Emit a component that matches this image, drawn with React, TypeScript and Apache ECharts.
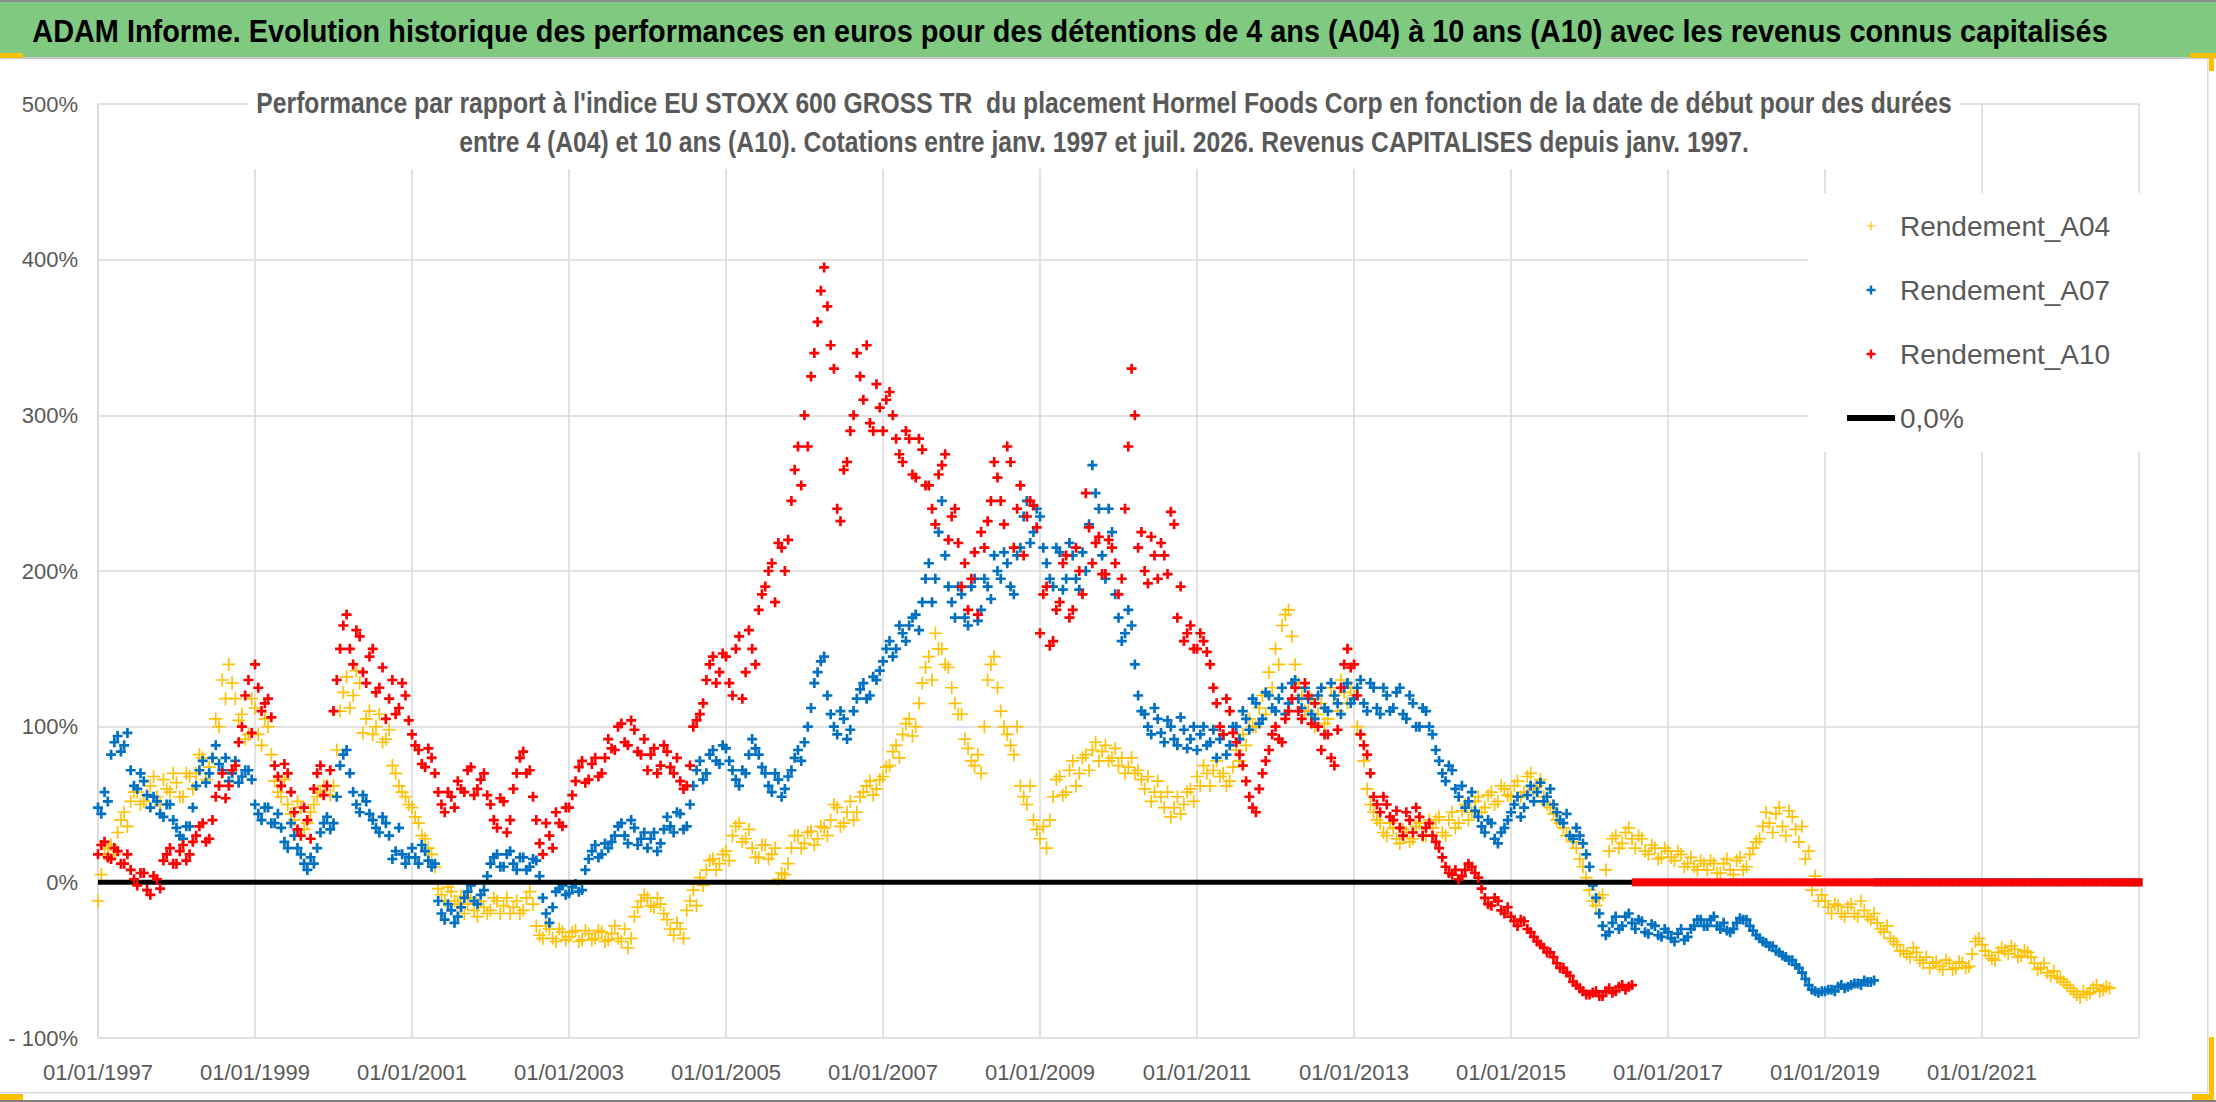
import { useEffect, useRef } from 'react'
import * as echarts from 'echarts'

const FONT = "'Liberation Sans', Arial, sans-serif"

const MAIN_TITLE =
  'ADAM Informe. Evolution historique des performances en euros pour des détentions de 4 ans (A04) à 10 ans (A10) avec les revenus connus capitalisés'
const SUBTITLE_1 =
  "Performance par rapport à l'indice EU STOXX 600 GROSS TR  du placement Hormel Foods Corp en fonction de la date de début pour des durées"
const SUBTITLE_2 =
  'entre 4 (A04) et 10 ans (A10). Cotations entre janv. 1997 et juil. 2026. Revenus CAPITALISES depuis janv. 1997.'

// axe des dates : relevés en début et en milieu de chaque mois depuis janv. 1997
const START_YEAR = 1997
const X_MIN = 1997
const X_MAX = 2023
const X_STEP = 2
const Y_MIN = -100
const Y_MAX = 500
const Y_STEP = 100

// rendement (%) selon la date de début — relevé du début de mois
const rendementA04 = [
  -12, 18, 24, 32, 45, 52, 58, 52, 62, 55, 66, 58, // 1997
  64, 55, 68, 70, 80, 74, 105, 130, 140, 118, 108, 95, // 1998
  112, 88, 100, 65, 55, 50, 40, 48, 38, 50, 58, 62, // 1999
  62, 110, 132, 120, 128, 105, 95, 108, 92, 75, 62, 55, // 2000
  48, 38, 28, 18, -4, -12, -6, -14, -20, -10, -22, -16, // 2001
  -18, -12, -15, -20, -12, -18, -6, -28, -36, -30, -38, -32, // 2002
  -35, -31, -37, -33, -36, -32, -37, -28, -38, -42, -22, -12, // 2003
  -10, -16, -14, -24, -34, -30, -18, -5, 3, 8, 15, 12, // 2004
  20, 30, 38, 28, 22, 16, 24, 18, 2, 5, 22, 30, // 2005
  25, 33, 28, 35, 40, 48, 38, 52, 45, 58, 65, 60, // 2006
  68, 75, 88, 95, 105, 100, 128, 145, 160, 150, 138, 115, // 2007
  108, 86, 75, 70, 130, 145, 110, 95, 82, 62, 50, 40, // 2008
  28, 22, 55, 68, 58, 78, 70, 82, 85, 78, 88, 80, // 2009
  75, 70, 80, 72, 60, 52, 65, 48, 42, 55, 50, 60, // 2010
  68, 75, 62, 78, 70, 65, 85, 95, 105, 100, 120, 135, // 2011
  150, 165, 175, 140, 120, 110, 100, 115, 105, 120, 130, 115, // 2012
  120, 95, 60, 45, 38, 30, 35, 25, 32, 28, 38, 30, // 2013
  35, 42, 30, 45, 38, 50, 45, 55, 48, 58, 52, 60, // 2014
  55, 65, 58, 70, 62, 55, 48, 40, 35, 30, 22, 10, // 2015
  -5, -15, -8, 20, 30, 25, 35, 22, 28, 18, 22, 16, // 2016
  20, 14, 18, 12, 10, 14, 8, 12, 6, 15, 5, 16, // 2017
  10, 22, 28, 45, 32, 48, 30, 42, 26, 15, -5, -12, // 2018
  -12, -20, -15, -22, -14, -22, -18, -24, -26, -32, -36, -40, // 2019
  -44, -48, -45, -52, -55, -51, -56, -52, -55, -52, -54, -38, // 2020
  -40, -47, -50, -42, -46, -43, -47, -45, -52, -55, -58, -57, // 2021
  -62, -66, -70, -74, -72, -68, -70, -67, 0, 0, 0, 0, // 2022
  0, // 2023
]
// relevé du milieu de mois
const rendementA04Mi = [
  5, 22, 18, 40, 36, 58, 50, 56, 68, 50, 60, 70, // 1997
  55, 70, 60, 82, 66, 80, 100, 118, 128, 104, 92, 118, // 1998
  95, 105, 82, 58, 66, 44, 52, 34, 45, 55, 62, 56, // 1999
  85, 122, 112, 136, 96, 110, 100, 90, 98, 70, 58, 50, // 2000
  42, 30, 22, 10, -8, -3, -12, -9, -14, -18, -12, -20, // 2001
  -10, -20, -10, -16, -20, -10, -14, -34, -28, -36, -30, -37, // 2002
  -32, -38, -31, -37, -31, -38, -33, -36, -30, -36, -16, -8, // 2003
  -15, -10, -20, -30, -26, -36, -12, -15, -2, 14, 8, 18, // 2004
  14, 36, 26, 34, 16, 24, 15, 22, 6, 12, 30, 22, // 2005
  32, 24, 36, 30, 50, 36, 45, 40, 55, 62, 56, 66, // 2006
  74, 84, 80, 102, 94, 115, 138, 130, 150, 140, 125, 108, // 2007
  92, 78, 82, 100, 140, 125, 100, 88, 100, 55, 62, 34, // 2008
  36, 40, 66, 56, 72, 62, 80, 72, 90, 84, 78, 86, // 2009
  80, 74, 70, 66, 68, 58, 55, 58, 48, 44, 58, 52, // 2010
  62, 70, 72, 68, 62, 74, 78, 88, 100, 112, 108, 125, // 2011
  140, 172, 158, 128, 110, 118, 108, 102, 125, 110, 122, 125, // 2012
  100, 78, 50, 40, 32, 38, 28, 34, 26, 36, 30, 40, // 2013
  40, 32, 40, 35, 46, 40, 52, 45, 56, 50, 62, 56, // 2014
  62, 55, 68, 60, 66, 50, 44, 38, 30, 26, 15, 3, // 2015
  -12, -10, 8, 28, 22, 32, 28, 30, 20, 24, 15, 22, // 2016
  16, 20, 10, 16, 8, 12, 14, 6, 12, 8, 14, 8, // 2017
  18, 26, 36, 38, 44, 36, 46, 34, 36, 20, 4, -8, // 2018
  -16, -14, -20, -16, -20, -12, -22, -20, -30, -28, -38, -44, // 2019
  -46, -42, -50, -48, -52, -54, -50, -56, -51, -55, -46, -36, // 2020
  -44, -49, -45, -44, -41, -48, -44, -48, -56, -52, -60, -61, // 2021
  -64, -68, -72, -70, -71, -66, -69, -68, // 2022
]

const rendementA07 = [
  48, 58, 82, 94, 88, 72, 60, 65, 48, 52, 42, 50, // 1997
  35, 28, 36, 62, 78, 70, 88, 72, 65, 78, 68, 72, // 1998
  50, 40, 48, 38, 35, 22, 30, 18, 8, 12, 32, 42, // 1999
  38, 75, 85, 58, 45, 52, 40, 32, 38, 15, 35, 12, // 2000
  22, 12, 20, 10, -12, -24, -18, -22, -10, -2, -14, -5, // 2001
  12, 18, 10, 20, 8, 16, 10, 14, -10, -26, -6, -2, // 2002
  -7, -1, -5, 15, 24, 18, 22, 30, 38, 25, 35, 28, // 2003
  22, 32, 25, 42, 32, 44, 36, 62, 78, 70, 85, 76, // 2004
  86, 72, 62, 70, 92, 82, 70, 58, 66, 60, 72, 85, // 2005
  90, 112, 135, 145, 108, 95, 105, 98, 118, 128, 120, 130, // 2006
  142, 155, 150, 160, 165, 172, 180, 205, 195, 245, 190, 170, // 2007
  185, 165, 195, 175, 190, 210, 195, 205, 185, 215, 245, 225, // 2008
  235, 205, 190, 212, 195, 210, 188, 200, 268, 240, 195, 225, // 2009
  170, 160, 165, 120, 108, 95, 105, 90, 100, 88, 98, 92, // 2010
  85, 100, 90, 80, 95, 88, 100, 110, 98, 115, 105, 120, // 2011
  110, 125, 115, 130, 112, 118, 105, 125, 110, 120, 108, 128, // 2012
  118, 130, 110, 125, 108, 120, 112, 125, 105, 115, 100, 110, // 2013
  95, 78, 65, 72, 55, 48, 58, 42, 32, 38, 25, 35, // 2014
  45, 55, 48, 62, 58, 52, 60, 45, 38, 30, 35, 25, // 2015
  10, -10, -28, -32, -22, -28, -20, -30, -25, -33, -28, -35, // 2016
  -32, -38, -30, -35, -28, -24, -28, -22, -30, -31, -30, -23, // 2017
  -24, -31, -36, -39, -41, -45, -48, -50, -55, -62, -69, -71, // 2018
  -70, -69, -67, -68, -66, -65, -63, -64, 0, 0, 0, 0, // 2019
  0, 0, 0, 0, 0, 0, 0, 0, 0, 0, 0, 0, // 2020
  0, 0, 0, 0, 0, 0, 0, 0, 0, 0, 0, 0, // 2021
  0, 0, 0, 0, 0, 0, 0, 0, 0, 0, 0, 0, // 2022
  0, // 2023
]
const rendementA07Mi = [
  44, 52, 90, 84, 96, 62, 70, 56, 55, 44, 50, 40, // 1997
  30, 36, 48, 72, 64, 80, 76, 80, 70, 64, 72, 66, // 1998
  44, 48, 38, 44, 26, 38, 22, 12, 16, 22, 38, 34, // 1999
  55, 82, 70, 50, 56, 44, 35, 42, 30, 20, 18, 16, // 2000
  16, 24, 14, 12, -20, -14, -26, -16, -6, -12, -8, 4, // 2001
  16, 10, 18, 12, 16, 8, 15, 4, -20, -16, -4, -8, // 2002
  -3, -6, 8, 20, 16, 25, 26, 36, 30, 40, 24, 32, // 2003
  28, 20, 34, 36, 45, 34, 50, 72, 66, 82, 78, 88, // 2004
  78, 66, 72, 82, 86, 74, 62, 70, 55, 68, 80, 78, // 2005
  100, 128, 142, 120, 100, 110, 92, 110, 124, 118, 132, 136, // 2006
  150, 145, 165, 155, 170, 162, 195, 180, 225, 210, 180, 190, // 2007
  170, 190, 168, 195, 182, 200, 212, 190, 210, 235, 218, 240, // 2008
  215, 195, 215, 188, 218, 195, 212, 230, 250, 210, 240, 185, // 2009
  155, 175, 140, 110, 100, 112, 96, 104, 92, 106, 86, 100, // 2010
  95, 88, 98, 92, 82, 100, 92, 105, 118, 102, 122, 112, // 2011
  118, 108, 128, 118, 125, 108, 120, 112, 128, 115, 125, 115, // 2012
  125, 115, 128, 112, 125, 110, 122, 108, 120, 100, 112, 100, // 2013
  85, 70, 75, 60, 62, 52, 46, 36, 40, 28, 32, 40, // 2014
  50, 42, 56, 52, 64, 55, 50, 40, 44, 28, 30, 18, // 2015
  -2, -20, -34, -26, -30, -22, -26, -24, -32, -27, -34, -30, // 2016
  -36, -33, -37, -30, -24, -28, -24, -28, -26, -32, -26, -24, // 2017
  -28, -34, -38, -41, -44, -47, -50, -53, -58, -66, -70, -70, // 2018
  -69, -70, -66, -67, -65, -66, -64, -63, // 2019
]

const rendementA10 = [
  18, 26, 15, 20, 12, 8, -2, 6, -8, 2, 14, 22, // 1997
  12, 24, 18, 30, 38, 28, 55, 70, 62, 75, 100, 130, // 1998
  140, 110, 118, 75, 62, 70, 45, 30, 40, 60, 75, 62, // 1999
  110, 150, 172, 140, 158, 128, 150, 125, 105, 130, 112, 120, // 2000
  95, 85, 74, 80, 58, 45, 55, 65, 58, 74, 60, 70, // 2001
  50, 35, 52, 40, 70, 84, 72, 40, 18, 30, 45, 36, // 2002
  48, 65, 78, 66, 80, 70, 92, 85, 102, 88, 98, 82, // 2003
  72, 86, 75, 84, 70, 65, 62, 100, 108, 130, 145, 135, // 2004
  145, 120, 158, 135, 150, 175, 190, 205, 218, 200, 245, 280, // 2005
  300, 325, 360, 395, 345, 240, 265, 290, 340, 310, 295, 320, // 2006
  290, 315, 285, 270, 285, 260, 278, 255, 230, 268, 220, 240, // 2007
  190, 175, 212, 225, 232, 270, 245, 280, 215, 255, 235, 242, // 2008
  160, 190, 155, 180, 210, 175, 200, 250, 205, 222, 198, 215, // 2009
  185, 240, 330, 215, 200, 222, 195, 210, 238, 170, 155, 165, // 2010
  150, 155, 140, 115, 95, 110, 90, 75, 55, 45, 70, 85, // 2011
  100, 90, 110, 125, 105, 120, 115, 85, 95, 75, 125, 150, // 2012
  140, 95, 82, 55, 45, 50, 40, 35, 45, 32, 42, 35, // 2013
  30, 22, 10, 5, 2, 8, 10, 3, -10, -15, -12, -20, // 2014
  -22, -28, -25, -32, -38, -42, -45, -52, -55, -60, -66, -70, // 2015
  -72, -70, -73, -68, -70, -66, -67, 0, 0, 0, 0, 0, // 2016
  0, 0, 0, 0, 0, 0, 0, 0, 0, 0, 0, 0, // 2017
  0, 0, 0, 0, 0, 0, 0, 0, 0, 0, 0, 0, // 2018
  0, 0, 0, 0, 0, 0, 0, 0, 0, 0, 0, 0, // 2019
  0, 0, 0, 0, 0, 0, 0, 0, 0, 0, 0, 0, // 2020
  0, 0, 0, 0, 0, 0, 0, 0, 0, 0, 0, 0, // 2021
  0, 0, 0, 0, 0, 0, 0, 0, 0, 0, 0, 0, // 2022
  0, // 2023
]
const rendementA10Mi = [
  24, 16, 22, 12, 18, 2, 6, -5, 4, -4, 18, 12, // 1997
  20, 14, 26, 36, 26, 40, 62, 54, 72, 90, 120, 96, // 1998
  125, 115, 106, 68, 76, 58, 34, 48, 28, 70, 56, 72, // 1999
  130, 165, 150, 162, 135, 145, 122, 138, 118, 108, 128, 104, // 2000
  88, 76, 86, 70, 50, 58, 48, 60, 72, 56, 66, 56, // 2001
  40, 54, 32, 60, 80, 70, 55, 25, 38, 22, 38, 48, // 2002
  56, 74, 64, 76, 68, 80, 86, 100, 90, 104, 84, 92, // 2003
  82, 70, 88, 74, 80, 60, 75, 104, 115, 140, 128, 147, // 2004
  128, 150, 118, 162, 140, 185, 200, 180, 215, 220, 265, 255, // 2005
  280, 340, 380, 370, 330, 232, 270, 300, 325, 345, 290, 305, // 2006
  310, 300, 275, 290, 262, 285, 255, 240, 262, 275, 235, 218, // 2007
  205, 195, 172, 215, 245, 260, 230, 270, 240, 210, 245, 228, // 2008
  185, 152, 175, 205, 170, 215, 185, 228, 218, 198, 220, 205, // 2009
  195, 280, 300, 225, 192, 210, 218, 198, 230, 190, 160, 150, // 2010
  160, 148, 125, 100, 118, 96, 82, 65, 48, 60, 78, 95, // 2011
  92, 105, 118, 110, 128, 102, 100, 95, 80, 98, 140, 138, // 2012
  120, 88, 70, 50, 55, 42, 46, 30, 40, 48, 30, 38, // 2013
  26, 16, 6, 8, 4, 12, 6, -4, -14, -10, -18, -16, // 2014
  -25, -24, -30, -35, -40, -45, -48, -55, -58, -64, -68, -72, // 2015
  -71, -73, -70, -71, -67, -69, -66, // 2016
]

// ligne de référence 0,0 %
const ligneZero = [
  [1997, 0],
  [2023, 0],
]

const PLUS = 'path://M3,0h2.2v3h3v2.2h-3v3h-2.2v-3h-3v-2.2h3z'
const PLUS_THIN = 'path://M4.4,0h1.3v4.4h4.4v1.3h-4.4v4.4h-1.3v-4.4h-4.4v-1.3h4.4z'

const GRID_GRAY = '#d9d9d9'
const TEXT_GRAY = '#595959'

function toPoints(start: number[], mid: number[]) {
  const pts: any[] = []
  start.forEach((v, i) => {
    const x = START_YEAR + i / 12
    // les dates sans cotation valent 0 et forment un trait continu
    if (v === 0) pts.push({ value: [x, 0], symbol: 'rect', symbolSize: [7, 8] })
    else pts.push([x, v])
  })
  mid.forEach((v, i) => pts.push([START_YEAR + (i + 0.5) / 12, v]))
  return pts
}

function fitScale(text: string, font: string, width: number) {
  const ctx = document.createElement('canvas').getContext('2d')
  if (!ctx) return 1
  ctx.font = font
  return width / ctx.measureText(text).width
}

export default function App() {
  const chartRef = useRef<HTMLDivElement>(null)

  useEffect(() => {
    if (!chartRef.current) return
    const chart = echarts.init(chartRef.current, undefined, { renderer: 'svg' })

    const titleScale = fitScale(MAIN_TITLE, `bold 32px ${FONT}`, 2076)
    const subScale = fitScale(SUBTITLE_1, `bold 30px ${FONT}`, 1696)

    const option: echarts.EChartsOption = {
      backgroundColor: '#fff',
      animation: false,
      legend: {
        orient: 'vertical',
        left: 1808,
        top: 193,
        padding: [18, 36, 19, 39],
        backgroundColor: '#fff',
        itemGap: 34,
        itemWidth: 48,
        itemHeight: 9,
        selectedMode: false,
        textStyle: { fontFamily: FONT, fontSize: 28, color: TEXT_GRAY, lineHeight: 30 },
        data: [
          { name: 'Rendement_A04', icon: PLUS_THIN },
          { name: 'Rendement_A07', icon: PLUS },
          { name: 'Rendement_A10', icon: PLUS },
          { name: '0,0%', icon: 'path://M0,0h48v6h-48z' },
        ],
      },
      grid: { left: 98, right: 77, top: 104, bottom: 64 },
      xAxis: {
        type: 'value',
        min: X_MIN,
        max: X_MAX,
        interval: X_STEP,
        axisLine: { show: true, lineStyle: { color: GRID_GRAY, width: 1.5 } },
        axisTick: { show: false },
        splitLine: { show: true, lineStyle: { color: GRID_GRAY, width: 1.5 } },
        axisLabel: {
          margin: 23,
          color: TEXT_GRAY,
          fontFamily: FONT,
          fontSize: 22,
          formatter: (v: number) => (v >= X_MAX ? '' : `01/01/${v}`),
        },
      },
      yAxis: {
        type: 'value',
        min: Y_MIN,
        max: Y_MAX,
        interval: Y_STEP,
        axisLine: { show: true, lineStyle: { color: GRID_GRAY, width: 1.5 } },
        axisTick: { show: false },
        splitLine: { show: true, lineStyle: { color: GRID_GRAY, width: 1.5 } },
        axisLabel: {
          margin: 20,
          color: TEXT_GRAY,
          fontFamily: FONT,
          fontSize: 22,
          formatter: (v: number) => (v < 0 ? `- ${-v}%` : `${v}%`),
        },
      },
      series: [
        {
          name: 'Rendement_A04',
          type: 'scatter',
          data: toPoints(rendementA04, rendementA04Mi),
          symbol: PLUS_THIN,
          symbolSize: 13,
          itemStyle: { color: '#FFC000', opacity: 1 },
          silent: true,
          z: 2,
        },
        {
          name: 'Rendement_A07',
          type: 'scatter',
          data: toPoints(rendementA07, rendementA07Mi),
          symbol: PLUS,
          symbolSize: 10,
          itemStyle: { color: '#0070C0', opacity: 1 },
          silent: true,
          z: 3,
        },
        {
          name: '0,0%',
          type: 'line',
          data: ligneZero,
          symbol: 'none',
          color: '#000',
          itemStyle: { color: '#000' },
          lineStyle: { color: '#000', width: 5 },
          silent: true,
          z: 4,
        },
        {
          name: 'Rendement_A10',
          type: 'scatter',
          data: toPoints(rendementA10, rendementA10Mi),
          symbol: PLUS,
          symbolSize: 10,
          itemStyle: { color: '#FF0000', opacity: 1 },
          silent: true,
          z: 5,
        },
      ],
      graphic: [
        // bandeau vert du titre
        { type: 'rect', shape: { x: 0, y: 0, width: 2216, height: 57 }, style: { fill: '#80C980' }, z: 10 },
        { type: 'rect', shape: { x: 0, y: 0, width: 2216, height: 2 }, style: { fill: '#8c8c8c' }, z: 11 },
        { type: 'rect', shape: { x: 0, y: 57, width: 2216, height: 2 }, style: { fill: '#c8c8c8' }, z: 11 },
        {
          type: 'text',
          x: 1070,
          y: 30,
          scaleX: titleScale,
          z: 12,
          style: {
            text: MAIN_TITLE,
            fontFamily: FONT,
            fontSize: 32,
            fontWeight: 'bold',
            fill: '#000',
            align: 'center',
            verticalAlign: 'middle',
          },
        },
        // titre du graphique sur fond blanc
        { type: 'rect', shape: { x: 248, y: 77, width: 1712, height: 92 }, style: { fill: '#fff' }, z: 10 },
        {
          type: 'text',
          x: 1104,
          y: 103,
          scaleX: subScale,
          z: 12,
          style: {
            text: SUBTITLE_1,
            fontFamily: FONT,
            fontSize: 30,
            fontWeight: 'bold',
            fill: TEXT_GRAY,
            align: 'center',
            verticalAlign: 'middle',
          },
        },
        {
          type: 'text',
          x: 1104,
          y: 142,
          scaleX: subScale,
          z: 12,
          style: {
            text: SUBTITLE_2,
            fontFamily: FONT,
            fontSize: 30,
            fontWeight: 'bold',
            fill: TEXT_GRAY,
            align: 'center',
            verticalAlign: 'middle',
          },
        },
        // cadre de la zone graphique
        { type: 'rect', shape: { x: 2207, y: 59, width: 1.5, height: 1034 }, style: { fill: GRID_GRAY }, z: 11 },
        { type: 'rect', shape: { x: 0, y: 1092, width: 2208, height: 1.5 }, style: { fill: GRID_GRAY }, z: 11 },
        { type: 'rect', shape: { x: 0, y: 1100, width: 2216, height: 2 }, style: { fill: '#7f7f7f' }, z: 11 },
        // poignées de sélection
        { type: 'rect', shape: { x: 0, y: 53, width: 23, height: 5 }, style: { fill: '#FFC000' }, z: 13 },
        { type: 'rect', shape: { x: 2190, y: 53, width: 26, height: 5 }, style: { fill: '#FFC000' }, z: 13 },
        { type: 'rect', shape: { x: 2209, y: 53, width: 5, height: 18 }, style: { fill: '#FFC000' }, z: 13 },
        { type: 'rect', shape: { x: 0, y: 1094, width: 23, height: 6 }, style: { fill: '#FFC000' }, z: 13 },
        { type: 'rect', shape: { x: 2209, y: 1037, width: 5, height: 63 }, style: { fill: '#FFC000' }, z: 13 },
        { type: 'rect', shape: { x: 2192, y: 1094, width: 22, height: 6 }, style: { fill: '#FFC000' }, z: 13 },
      ],
    }

    chart.setOption(option)
    return () => {
      chart.dispose()
    }
  }, [])

  return (
    <div
      ref={chartRef}
      style={{ position: 'fixed', left: 0, top: 0, width: 2216, height: 1102 }}
    />
  )
}
